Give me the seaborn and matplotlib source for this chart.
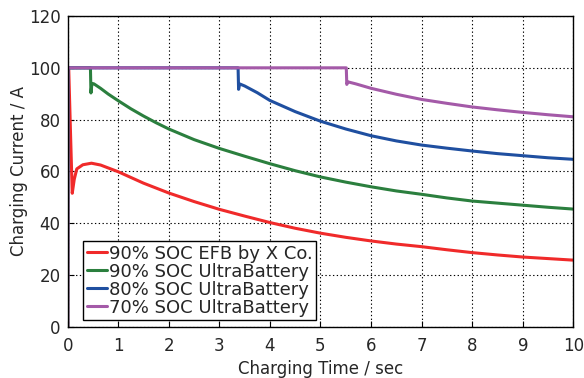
import pandas as pd
import matplotlib.pyplot as plt
import seaborn as sns

sns.set_style("ticks")
plt.rcParams['font.family'] = ['DejaVu Sans']

# Values
efb_time = [0, 0.005, 0.02, 0.06, 0.09, 0.13, 0.18, 0.3, 0.47, 0.65, 1.0, 1.5, 2.0,
            2.5, 3.0, 3.5, 4.0, 4.5, 5.0, 5.5, 6.0, 6.5, 7.0, 7.5, 8.0, 8.5, 9.0, 9.5, 10]
efb_current = [0, 100, 100, 72, 51.6, 57, 61, 62.6, 63.2, 62.5, 59.9, 55.5, 51.7,
               48.4, 45.4, 42.8, 40.3, 38.1, 36.2, 34.6, 33.2, 32.0, 31.0, 29.8, 28.7,
               27.8, 27.0, 26.4, 25.8]

ub90_time = [0, 0.005, 0.45, 0.46, 0.48, 0.52, 0.65, 0.8, 1.0, 1.25, 1.5, 1.75, 2.0,
             2.5, 3.0, 3.5, 4.0, 4.5, 5.0, 5.5, 6.0, 6.5, 7.0, 7.5, 8.0, 8.5, 9.0,
             9.5, 10]
ub90_current = [0, 100, 100, 90.3, 94.0, 93.8, 92.1, 89.9, 87.3, 84.2, 81.4, 78.8, 76.4,
                72.3, 68.9, 65.9, 63.0, 60.3, 57.9, 55.9, 54.1, 52.5, 51.2, 49.8, 48.6,
                47.8, 47.0, 46.2, 45.5]

ub80_time = [0, 0.005, 3.37, 3.38, 3.40, 3.5, 3.75, 4.0, 4.5, 5.0, 5.5, 6.0, 6.5,
             7.0, 7.5, 8.0, 8.5, 9.0, 9.5, 10]
ub80_current = [0, 100, 100, 91.7, 93.8, 93.0, 90.4, 87.4, 83.1, 79.4, 76.4, 73.8, 71.8,
                70.2, 69.0, 67.9, 66.9, 66.1, 65.3, 64.7]

ub70_time = [0, 0.005, 5.51, 5.52, 5.54, 5.7, 6.0, 6.5, 7.0, 7.5, 8.0, 8.5, 9.0, 9.5, 10]
ub70_current = [0, 100, 100, 93.6, 94.6, 93.8, 92.1, 89.8, 87.8, 86.3, 84.9, 83.8,
                82.8, 81.9, 81.1]

labels = ['90% SOC EFB by X Co.', '90% SOC UltraBattery',
          '80% SOC UltraBattery', '70% SOC UltraBattery']
colors = ['#f02a2a', '#2b7f3e', '#1f4fa0', '#a45aa8']

fig = plt.figure(figsize=(5.84, 3.78), dpi=100)
ax = fig.add_axes([0.1159, 0.1349, 0.8658, 0.8228])

series = [(efb_time, efb_current), (ub90_time, ub90_current),
          (ub80_time, ub80_current), (ub70_time, ub70_current)]
for (t, c), lab, col in zip(series, labels, colors):
    df = pd.DataFrame({'time': t, 'current': c})
    sns.lineplot(data=df, x='time', y='current', ax=ax, sort=False, estimator=None,
                 color=col, linewidth=2.2, label=lab)

ax.set_xlim(0, 10)
ax.set_ylim(0, 120)
ax.set_xticks(range(0, 11))
ax.set_yticks(range(0, 121, 20))
ax.grid(True, color='black', linestyle=(0, (1.2, 2.2)), linewidth=0.8)
ax.tick_params(direction='in', labelsize=12, length=4, color='black')
ax.tick_params(axis='x', pad=7)
ax.tick_params(axis='y', pad=5)
for s in ax.spines.values():
    s.set_color('black')
    s.set_linewidth(1.0)
ax.set_xlabel('Charging Time / sec', fontsize=12, labelpad=4)
ax.set_ylabel('Charging Current / A', fontsize=12, labelpad=1)

leg = ax.legend(loc='lower left', bbox_to_anchor=(0.024, 0.01), fontsize=13,
                handlelength=1.1, handletextpad=0.12, labelspacing=0.0,
                borderpad=0.2, borderaxespad=0.2, fancybox=False, framealpha=1,
                edgecolor='black')
leg.get_frame().set_linewidth(1.0)

plt.savefig('out.png', dpi=100)
